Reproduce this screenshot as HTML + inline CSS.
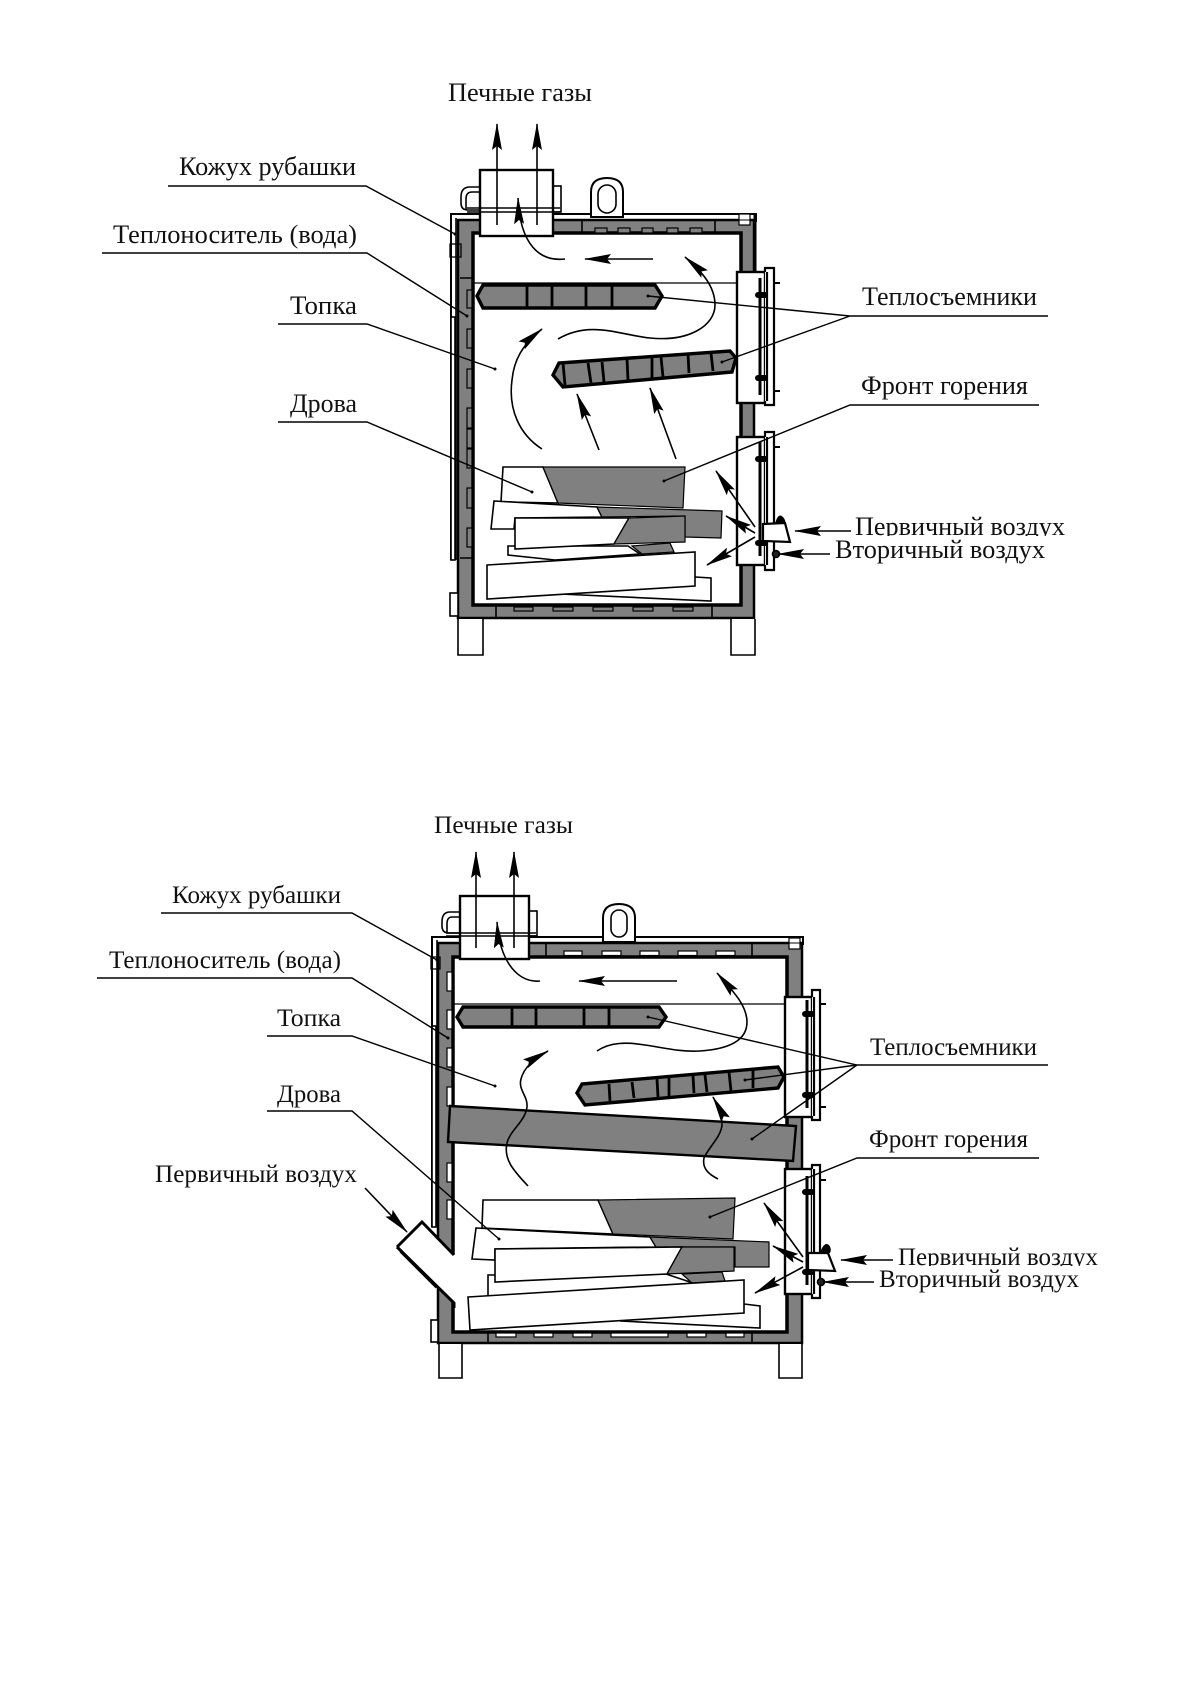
<!DOCTYPE html>
<html><head><meta charset="utf-8"><style>
html,body{margin:0;padding:0;background:#fff}
svg{display:block;filter:blur(0.35px)}
text{font-family:"Liberation Serif","Noto Serif CJK SC",serif;fill:#111;font-size:26px}
.b text{font-size:25px}
.th{fill:none;stroke:#000;stroke-width:1.6}
.ld{fill:none;stroke:#000;stroke-width:1.4}
.ar{fill:none;stroke:#000;stroke-width:1.6;marker-end:url(#a)}
.w{fill:#fff;stroke:#000;stroke-width:1.6}
.g{fill:#808080;stroke:#000;stroke-width:1.2}
.gn{fill:#808080;stroke:#000;stroke-width:3.4}
.t{fill:none;stroke:#000;stroke-width:3}
.sl{fill:#808080;stroke:#000;stroke-width:1.2}
.sw{fill:#fff;stroke:#000;stroke-width:1.2}
</style></head><body>
<svg width="1191" height="1684" viewBox="0 0 1191 1684" xmlns="http://www.w3.org/2000/svg">
<defs>
<marker id="a" markerUnits="userSpaceOnUse" viewBox="0 0 27 10" refX="26" refY="5" markerWidth="27" markerHeight="10" orient="auto"><path d="M27,5 L0,0 L4,5 L0,10 Z" fill="#000"/></marker>
</defs>
<rect width="1191" height="1684" fill="#fff"/>

<!-- ============ TOP DIAGRAM ============ -->
<g>
<path d="M451,560 V214 H756 V222" fill="#fff" stroke="#000" stroke-width="2"/>
<path d="M456,560 V218" class="th"/>
<rect x="458" y="220" width="296" height="398" fill="#808080" stroke="#000" stroke-width="2.5"/>
<rect x="473" y="233" width="268" height="372" fill="#fff" stroke="#000" stroke-width="3.5"/>
<path d="M755,214 V272" stroke="#000" stroke-width="3"/>
<rect x="451" y="317" width="4" height="243" fill="#fff" stroke="#000" stroke-width="1.6"/>
<rect x="450" y="244" width="11" height="13" fill="none" stroke="#000" stroke-width="1.3"/>
<rect x="739" y="214" width="11" height="11" fill="#fff" stroke="#000" stroke-width="1.2"/>
<path d="M739,220 H750" stroke="#000" stroke-width="1"/>
<path d="M460,278 H473 M460,558 H473" class="th"/>
<g class="sl">
<rect x="467" y="290" width="5" height="18"/><rect x="467" y="329" width="5" height="19"/><rect x="467" y="369" width="5" height="19"/><rect x="467" y="408" width="5" height="20"/><rect x="467" y="429" width="5" height="19"/><rect x="467" y="449" width="5" height="19"/><rect x="467" y="488" width="5" height="20"/><rect x="467" y="528" width="5" height="19"/>
</g>
<path d="M582,221 V233 M715,221 V233" class="th"/>
<g class="sl"><rect x="595" y="228" width="12" height="5"/><rect x="618" y="228" width="12" height="5"/><rect x="642" y="228" width="11" height="5"/><rect x="667" y="228" width="11" height="5"/><rect x="690" y="228" width="12" height="5"/></g>
<path d="M496,606 V618 M712,606 V618" class="th"/>
<g class="sl"><rect x="514" y="607" width="19" height="4"/><rect x="553" y="607" width="20" height="4"/><rect x="593" y="607" width="20" height="4"/><rect x="633" y="607" width="20" height="4"/><rect x="673" y="607" width="20" height="4"/></g>
<rect x="450" y="593" width="8" height="23" class="w"/>
<path d="M458,619 V655 H483 V619" class="w" stroke-width="2"/>
<path d="M731,619 V655 H755 V619" class="w" stroke-width="2"/>
<path d="M591,217 V192 Q591,178 607,178 Q623,178 623,192 V217 Z" fill="#fff" stroke="#000" stroke-width="2"/>
<rect x="598" y="185" width="18" height="28" rx="9" fill="#fff" stroke="#000" stroke-width="1.6"/>
<path d="M480,187 H470 Q461,187 461,197 V203 Q461,210 468,210 H480" fill="none" stroke="#000" stroke-width="1.6"/>
<path d="M480,192 H472 Q466,192 466,199 V210" fill="none" stroke="#000" stroke-width="1.6"/>
<rect x="553" y="186" width="8" height="26" fill="#fff" stroke="#000" stroke-width="1.6"/>
<rect x="480" y="170" width="73" height="66" fill="#fff" stroke="#000" stroke-width="2.4"/>
<path d="M467,208 H560 M467,212 H560" class="th"/>
<path d="M473,283 H737" stroke="#000" stroke-width="1.2"/>
<polygon class="gn" points="477,296 483,285 655,285 662,296 655,308 483,308"/>
<path d="M527,285 V308 M552,285 V308 M586,285 V308 M612,285 V308" stroke="#000" stroke-width="2.8"/>
<polygon class="gn" points="553,375 559,363 730,351 736,358 732,372 563,387"/>
<path d="M563,363 L565,385 M588,363 L591,383 M602,362 L604,382 M627,359 L628,380 M652,357 L652,378 M661,357 L663,377 M688,354 L689,373 M711,353 L713,371" stroke="#000" stroke-width="2.8"/>
<polygon class="w" points="695,577 711,578 711,601 560,594"/>
<polygon class="w" points="508,546 508,555 555,560 640,554 628,546"/>
<polygon class="g" points="632,546 670,543 674,552 642,554"/>
<polygon class="w" points="503,467 543,467 558,503 501,502"/>
<polygon class="g" points="543,467 685,467 683,508 558,503"/>
<polygon class="w" points="494,501 597,507 602,517 515,518 514,529 491,529"/>
<polygon class="g" points="597,507 722,511 721,538 685,537 685,516 602,517"/>
<polygon class="w" points="515,518 629,518 614,544 515,549"/>
<polygon class="g" points="629,518 685,516 685,542 614,544"/>
<polygon class="w" points="487,565 695,552 695,586 487,599"/>
<rect x="737" y="272" width="28" height="131" fill="#fff" stroke="#000" stroke-width="2.4"/>
<path d="M765,272 V268 H774 V405 H765 V401 M767,272 V401" fill="#fff" stroke="#000" stroke-width="2.2"/>
<path d="M760,278 V395" stroke="#000" stroke-width="3"/>
<rect x="755" y="292" width="13" height="6" rx="3"/><rect x="755" y="375" width="13" height="6" rx="3"/>
<path d="M774,283 H780 M774,391 H780" stroke="#000" stroke-width="2"/>
<rect x="737" y="437" width="28" height="128" fill="#fff" stroke="#000" stroke-width="2.4"/>
<path d="M765,437 V432 H774 V570 H765 V565 M767,437 V565" fill="#fff" stroke="#000" stroke-width="2.2"/>
<path d="M760,442 V556" stroke="#000" stroke-width="3"/>
<rect x="755" y="456" width="13" height="6" rx="3"/>
<path d="M774,447 H780" stroke="#000" stroke-width="2"/>
<path d="M775,524 Q778,512 783,517 Q786,520 785,524 Z" fill="#000"/>
<polygon points="763,524 785,523 790,542 763,541" fill="#fff" stroke="#000" stroke-width="2.2"/>
<rect x="755" y="540" width="13" height="6" rx="3"/>
<circle cx="776" cy="554" r="3.5" fill="#222" stroke="#000" stroke-width="1.6"/>
<path class="ar" d="M497,225 V124"/><path class="ar" d="M537,225 V124"/>
<path class="ar" d="M653,259 H585"/>
<path class="ar" d="M565,259 C540,262 520,245 518,198"/>
<path class="ar" d="M558,339 C590,320 620,335 650,338 C690,342 715,325 715,305 C715,285 700,270 685,257"/>
<path class="ar" d="M542,449 C520,435 508,410 512,380 C514,360 522,345 542,329"/>
<path class="ar" d="M599,450 L577,394"/><path class="ar" d="M676,459 L650,388"/>
<path class="ar" d="M755,527 L716,471"/><path class="ar" d="M755,533 L726,516"/><path class="ar" d="M755,537 L707,565"/>
<path class="ar" d="M851,531 H795"/><path class="ar" d="M830,554 H778"/>
<path class="ld" d="M168,186 H366 L455,234"/>
<path class="ld" d="M102,253 H367 L467,316"/>
<path class="ld" d="M278,324 H367 L495,369"/>
<path class="ld" d="M278,422 H367 L532,492"/>
<path class="ld" d="M1048,316 H850 L648,296 M850,316 L722,362"/>
<path class="ld" d="M1039,405 H850 L664,481"/>
<g><circle cx="455" cy="234" r="1.5"/><circle cx="467" cy="316" r="1.5"/><circle cx="495" cy="369" r="1.5"/><circle cx="532" cy="492" r="1.5"/><circle cx="648" cy="296" r="1.5"/><circle cx="722" cy="362" r="1.5"/><circle cx="664" cy="481" r="1.5"/></g>
<text x="448" y="101" textLength="144" lengthAdjust="spacingAndGlyphs">Печные газы</text>
<text x="179" y="175" textLength="177" lengthAdjust="spacingAndGlyphs">Кожух рубашки</text>
<text x="113" y="243" textLength="244" lengthAdjust="spacingAndGlyphs">Теплоноситель (вода)</text>
<text x="290" y="314" textLength="67" lengthAdjust="spacingAndGlyphs">Топка</text>
<text x="290" y="412" textLength="67" lengthAdjust="spacingAndGlyphs">Дрова</text>
<text x="862" y="305" textLength="175" lengthAdjust="spacingAndGlyphs">Теплосъемники</text>
<text x="861" y="394" textLength="167" lengthAdjust="spacingAndGlyphs">Фронт горения</text>
<text x="855" y="535" textLength="210" lengthAdjust="spacingAndGlyphs">Первичный воздух</text>
<rect x="850" y="536" width="220" height="8" fill="#fff"/>
<text x="835" y="558" textLength="210" lengthAdjust="spacingAndGlyphs">Вторичный воздух</text>
</g>

<!-- ============ BOTTOM DIAGRAM ============ -->
<g class="b">
<path d="M432,1227 V937 H803 V945" fill="#fff" stroke="#000" stroke-width="2"/>
<path d="M437,1227 V940" class="th"/>
<rect x="438" y="943" width="364" height="400" fill="#808080" stroke="#000" stroke-width="2.5"/>
<rect x="453" y="957" width="334" height="375" fill="#fff" stroke="#000" stroke-width="3.5"/>
<rect x="432" y="1026" width="4" height="201" fill="#fff" stroke="#000" stroke-width="1.6"/>
<rect x="431" y="957" width="9" height="12" fill="none" stroke="#000" stroke-width="1.3"/>
<rect x="789" y="938" width="11" height="11" fill="#fff" stroke="#000" stroke-width="1.2"/>
<path d="M789,943 H800" stroke="#000" stroke-width="1"/>
<g class="sw">
<rect x="447" y="972" width="5" height="19"/><rect x="447" y="1010" width="5" height="19"/><rect x="447" y="1048" width="5" height="19"/><rect x="447" y="1087" width="5" height="19"/><rect x="447" y="1163" width="5" height="19"/><rect x="447" y="1200" width="5" height="19"/>
</g>
<path d="M546,944 V957 M752,944 V957" class="th"/>
<g class="sw"><rect x="564" y="951" width="18" height="4.5"/><rect x="602" y="951" width="19" height="4.5"/><rect x="640" y="951" width="19" height="4.5"/><rect x="678" y="951" width="19" height="4.5"/><rect x="716" y="951" width="19" height="4.5"/></g>
<path d="M488,1333 V1343 M752,1333 V1343" class="th"/>
<g class="sw"><rect x="496" y="1333" width="20" height="4"/><rect x="534" y="1333" width="19" height="4"/><rect x="573" y="1333" width="19" height="4"/><rect x="611" y="1333" width="57" height="4"/><rect x="687" y="1333" width="19" height="4"/><rect x="726" y="1333" width="18" height="4"/></g>
<rect x="431" y="1320" width="7" height="22" class="w"/>
<path d="M439,1344 V1378 H462 V1344" class="w" stroke-width="2"/>
<path d="M779,1344 V1378 H802 V1344" class="w" stroke-width="2"/>
<path d="M603,942 V918 Q603,904 619,904 Q635,904 635,918 V942 Z" fill="#fff" stroke="#000" stroke-width="2"/>
<rect x="611" y="910" width="16" height="27" rx="8" fill="#fff" stroke="#000" stroke-width="1.6"/>
<path d="M460,912 H450 Q442,912 442,922 V926 Q442,933 449,933 H460" fill="none" stroke="#000" stroke-width="1.6"/>
<path d="M460,917 H452 Q447,917 447,924 V933" fill="none" stroke="#000" stroke-width="1.6"/>
<rect x="529" y="911" width="8" height="25" fill="#fff" stroke="#000" stroke-width="1.6"/>
<rect x="460" y="896" width="69" height="63" fill="#fff" stroke="#000" stroke-width="2.4"/>
<path d="M446,933 H536 M446,936 H536" class="th"/>
<path d="M453,1004 H785" stroke="#000" stroke-width="1.2"/>
<polygon class="gn" points="457,1017 463,1007 659,1007 666,1017 659,1027 463,1027"/>
<path d="M512,1007 V1027 M536,1007 V1027 M584,1007 V1027 M609,1007 V1027" stroke="#000" stroke-width="2.8"/>
<polygon class="gn" points="577,1093 582,1084 778,1067 784,1077 778,1088 585,1105"/>
<path d="M609,1084 L610,1101 M632,1082 L634,1098 M657,1079 L658,1097 M669,1078 L669,1096 M693,1076 L694,1093 M705,1075 L707,1092 M729,1072 L731,1091 M753,1070 L753,1088" stroke="#000" stroke-width="2.8"/>
<polygon points="450,1106 796,1126 793,1161 448,1142" fill="#808080" stroke="#000" stroke-width="2.4"/>
<polygon class="w" points="744,1304 760,1306 760,1328 620,1321"/>
<polygon class="w" points="488,1275 488,1297 700,1288 690,1282 666,1274"/>
<polygon class="g" points="682,1274 722,1272 725,1281 692,1283"/>
<polygon class="w" points="483,1200 598,1200 613,1234 482,1228"/>
<polygon class="g" points="598,1200 735,1198 733,1239 613,1234"/>
<polygon class="w" points="476,1228 650,1237 656,1247 495,1249 495,1260 472,1259"/>
<polygon class="g" points="650,1237 769,1242 769,1267 735,1267 735,1247 656,1247"/>
<polygon class="w" points="495,1249 682,1247 667,1274 495,1282"/>
<polygon class="g" points="682,1247 734,1247 734,1271 667,1274"/>
<polygon class="w" points="468,1297 744,1280 744,1313 470,1330"/>
<polygon points="397,1247 422,1222 456,1256 456,1306 438,1288" fill="#fff"/>
<path d="M397,1247 L422,1222 L454,1255" fill="none" stroke="#000" stroke-width="3"/>
<path d="M397,1247 L454,1303 V1308" fill="none" stroke="#000" stroke-width="3"/>
<path d="M400,1252 L436,1288" fill="none" stroke="#000" stroke-width="1"/>
<rect x="785" y="997" width="27" height="120" fill="#fff" stroke="#000" stroke-width="2.4"/>
<path d="M812,997 V990 H820 V1120 H812 V1116 M814,997 V1116" fill="#fff" stroke="#000" stroke-width="2.2"/>
<path d="M807,1000 V1108" stroke="#000" stroke-width="3"/>
<rect x="802" y="1011" width="13" height="6" rx="3"/><rect x="802" y="1092" width="13" height="6" rx="3"/>
<path d="M820,1004 H826 M820,1107 H826" stroke="#000" stroke-width="2"/>
<rect x="785" y="1169" width="27" height="125" fill="#fff" stroke="#000" stroke-width="2.4"/>
<path d="M812,1169 V1165 H820 V1298 H812 V1294 M814,1169 V1294" fill="#fff" stroke="#000" stroke-width="2.2"/>
<path d="M807,1176 V1285" stroke="#000" stroke-width="3"/>
<rect x="802" y="1189" width="13" height="6" rx="3"/>
<path d="M820,1180 H826" stroke="#000" stroke-width="2"/>
<path d="M820,1253 Q824,1241 829,1245 Q832,1249 830,1253 Z" fill="#000"/>
<polygon points="808,1253 828,1253 835,1271 808,1270" fill="#fff" stroke="#000" stroke-width="2.2"/>
<rect x="802" y="1269" width="13" height="6" rx="3"/>
<circle cx="821" cy="1282" r="3.5" fill="#222" stroke="#000" stroke-width="1.6"/>
<path class="ar" d="M476,948 V852"/><path class="ar" d="M514,948 V852"/>
<path class="ar" d="M677,981 H579"/>
<path class="ar" d="M540,981 C520,983 500,965 497,922"/>
<path class="ar" d="M597,1051 C610,1042 627,1042 645,1045 C665,1048 680,1052 700,1051 C730,1049 747,1040 747,1022 C747,1005 732,990 717,973"/>
<path class="ar" d="M528,1186 C515,1172 503,1160 507,1143 C510,1130 525,1122 527,1107 C528,1096 518,1090 521,1079 C524,1068 532,1060 548,1051"/>
<path class="ar" d="M718,1179 C708,1174 702,1168 704,1158 C708,1148 722,1136 722,1124 C722,1116 718,1106 713,1097"/>
<path class="ar" d="M803,1257 L764,1203"/><path class="ar" d="M803,1262 L773,1246"/><path class="ar" d="M803,1267 L755,1293"/>
<path class="ar" d="M893,1260 H841"/><path class="ar" d="M874,1282 H823"/>
<path class="ar" d="M365,1188 L407,1232"/>
<path class="ld" d="M161,913 H352 L437,960"/>
<path class="ld" d="M97,978 H352 L448,1038"/>
<path class="ld" d="M267,1036 H352 L495,1086"/>
<path class="ld" d="M267,1111 H352 L499,1239"/>
<path class="ld" d="M1048,1065 H857 L648,1017 M857,1065 L745,1080 M857,1065 L752,1139"/>
<path class="ld" d="M1039,1158 H857 L710,1217"/>
<g><circle cx="437" cy="960" r="1.5"/><circle cx="448" cy="1038" r="1.5"/><circle cx="495" cy="1086" r="1.5"/><circle cx="499" cy="1239" r="1.5"/><circle cx="648" cy="1017" r="1.5"/><circle cx="745" cy="1080" r="1.5"/><circle cx="752" cy="1139" r="1.5"/><circle cx="710" cy="1217" r="1.5"/></g>
<text x="434" y="833" textLength="139" lengthAdjust="spacingAndGlyphs">Печные газы</text>
<text x="172" y="903" textLength="169" lengthAdjust="spacingAndGlyphs">Кожух рубашки</text>
<text x="109" y="968" textLength="232" lengthAdjust="spacingAndGlyphs">Теплоноситель (вода)</text>
<text x="277" y="1026" textLength="64" lengthAdjust="spacingAndGlyphs">Топка</text>
<text x="277" y="1102" textLength="64" lengthAdjust="spacingAndGlyphs">Дрова</text>
<text x="155" y="1182" textLength="202" lengthAdjust="spacingAndGlyphs">Первичный воздух</text>
<text x="870" y="1055" textLength="167" lengthAdjust="spacingAndGlyphs">Теплосъемники</text>
<text x="869" y="1147" textLength="159" lengthAdjust="spacingAndGlyphs">Фронт горения</text>
<text x="898" y="1265" textLength="200" lengthAdjust="spacingAndGlyphs">Первичный воздух</text>
<rect x="895" y="1266" width="210" height="8" fill="#fff"/>
<text x="879" y="1287" textLength="200" lengthAdjust="spacingAndGlyphs">Вторичный воздух</text>
</g>
</svg>
</body></html>
